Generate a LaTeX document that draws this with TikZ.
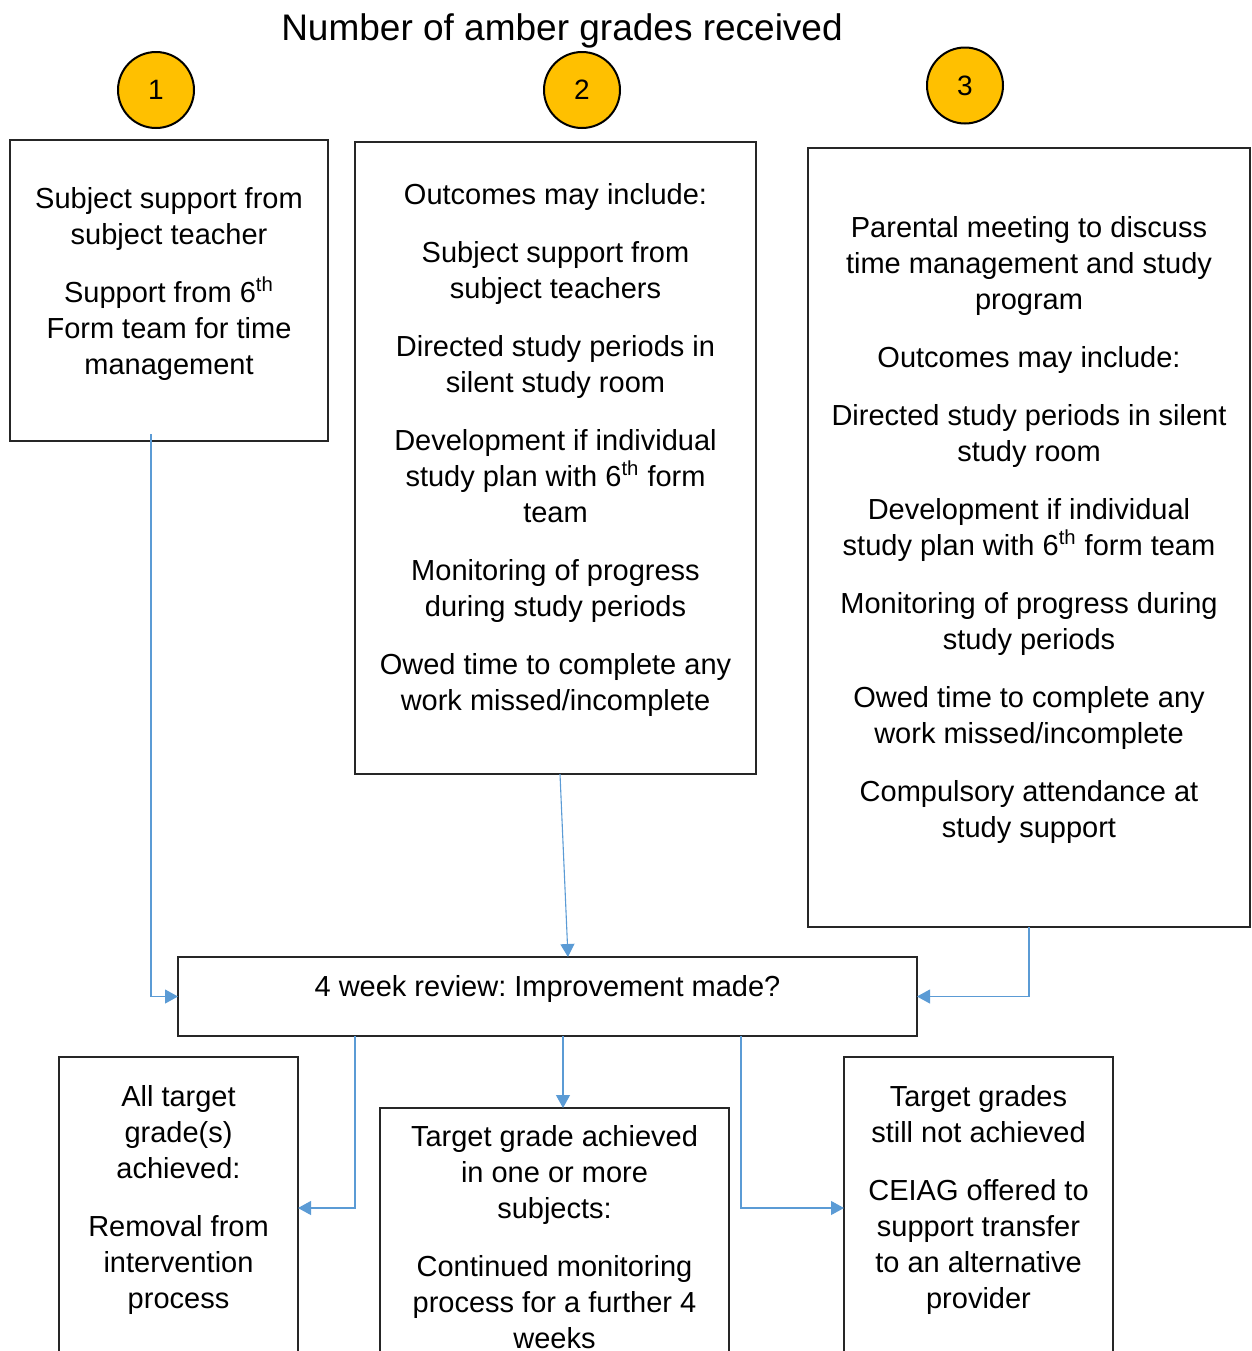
\documentclass[tikz,border=0pt]{standalone}
\usepackage{fontspec}
\setmainfont{Liberation Sans}
\usetikzlibrary{positioning, arrows.meta, calc}
\definecolor{amber}{HTML}{FFC000}
\definecolor{linkblue}{HTML}{5B9BD5}
\frenchspacing

\begin{document}
\begin{tikzpicture}[
    x=0.5pt, y=-0.5pt,
    panel/.style={draw=black!85, line width=0.6pt, inner sep=0pt, outer sep=0pt},
    grade/.style={circle, draw, line width=1pt, fill=amber, minimum size=38pt, inner sep=0pt, font=\fontsize{14}{16}\selectfont},
    flowtext/.style={align=center, inner sep=0pt, anchor=north, font=\fontsize{14.5}{18}\selectfont},
    link/.style={draw=linkblue, line width=0.55pt, -{Triangle[length=6.5pt, width=7pt]}}
]
    \useasboundingbox (0,0) rectangle (1252,1351);
    \clip (0,0) rectangle (1252,1351);

    % Heading and grade circles
    \node[font=\fontsize{18.5}{22}\selectfont, anchor=base] (title) at (562,40) {Number of amber grades received};
    \node[grade] (one) at (156,90) {1};
    \node[grade] (two) at (582,90) {2};
    \node[grade] (three) at (965,85.5) {3};

    % One amber grade
    \node[panel, minimum width=159pt, minimum height=150.5pt] (first) at (169,290.5) {};
    \node[flowtext] (firsttext) at (169,187) {Subject support from\\subject teacher\\[11pt]
        Support from 6\textsuperscript{th}\\Form team for time\\management};

    % Two amber grades
    \node[panel, minimum width=200.5pt, minimum height=316pt] (second) at (555.5,458) {};
    \node[flowtext] (secondtext) at (555.5,183) {Outcomes may include:\\[11pt]
        Subject support from\\subject teachers\\[11pt]
        Directed study periods in\\silent study room\\[11pt]
        Development if individual\\study plan with 6\textsuperscript{th} form\\team\\[11pt]
        Monitoring of progress\\during study periods\\[11pt]
        Owed time to complete any\\work missed/incomplete};

    % Three amber grades
    \node[panel, minimum width=221pt, minimum height=389.5pt] (third) at (1029,537.5) {};
    \node[flowtext] (thirdtext) at (1029,216) {Parental meeting to discuss\\time management and study\\program\\[11pt]
        Outcomes may include:\\[11pt]
        Directed study periods in silent\\study room\\[11pt]
        Development if individual\\study plan with 6\textsuperscript{th} form team\\[11pt]
        Monitoring of progress during\\study periods\\[11pt]
        Owed time to complete any\\work missed/incomplete\\[11pt]
        Compulsory attendance at\\study support};

    % Review step
    \node[panel, minimum width=369.5pt, minimum height=39.5pt] (review) at (547.5,996.5) {};
    \node[flowtext] (reviewtext) at (547.5,975) {4 week review: Improvement made?};

    % Outcomes of the review
    \node[panel, minimum width=119.5pt, minimum height=151pt] (lowleft) at (178.5,1208) {};
    \node[flowtext] (lowlefttext) at (178.5,1085) {All target\\grade(s)\\achieved:\\[11pt]
        Removal from\\intervention\\process};
    \node[panel, minimum width=174.5pt, minimum height=146pt] (lowmid) at (554.5,1254) {};
    \node[flowtext] (lowmidtext) at (554.5,1125) {Target grade achieved\\in one or more\\subjects:\\[11pt]
        Continued monitoring\\process for a further 4\\weeks};
    \node[panel, minimum width=134.5pt, minimum height=151pt] (lowright) at (978.5,1208) {};
    \node[flowtext] (lowrighttext) at (978.5,1085) {Target grades\\still not achieved\\[11pt]
        CEIAG offered to\\support transfer\\to an alternative\\provider};

    % Connectors
    \coordinate (drop) at (151,434);
    \draw[link] (drop) |- (review.west);
    \draw[link] ($(second.south)+(4.5,0)$) -- ($(review.north)+(20.5,0)$);
    \draw[link] (third.south) |- (review.east);
    \coordinate (splitleft) at (355,1036);
    \coordinate (splitmid) at (563,1036);
    \coordinate (splitright) at (741,1036);
    \draw[link] (splitleft) |- (lowleft.east);
    \draw[link] (splitmid) -- (splitmid |- lowmid.north);
    \draw[link] (splitright) |- (lowright.west);
\end{tikzpicture}
\end{document}
